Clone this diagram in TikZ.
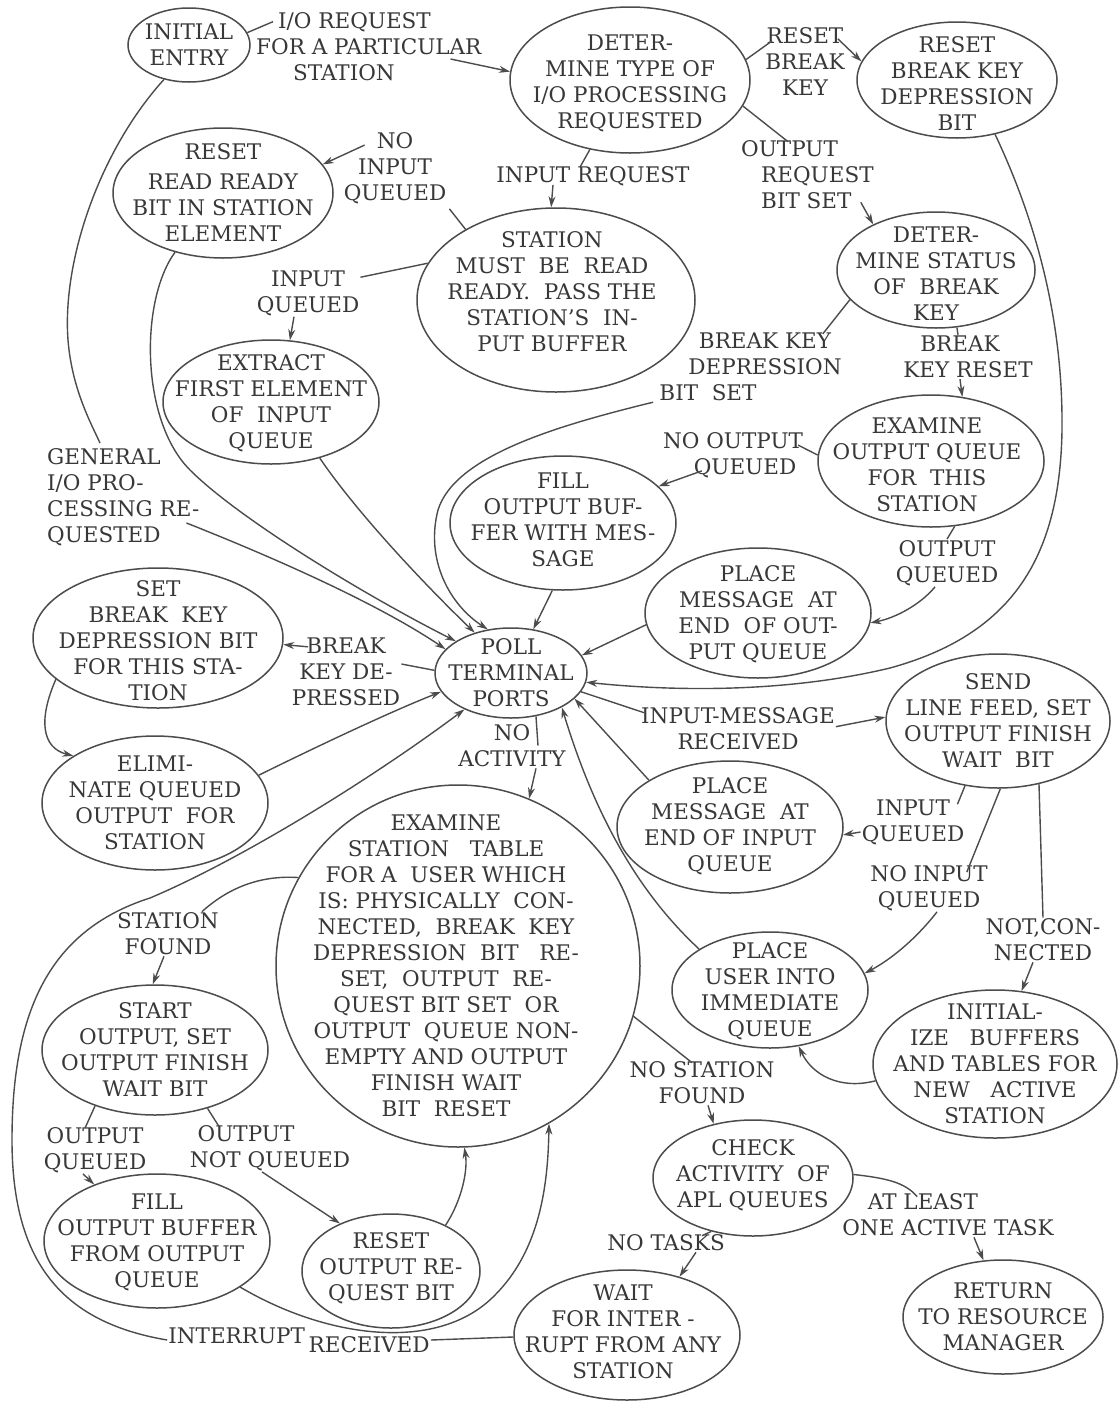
\documentclass[tikz,border=0pt]{standalone}
\usepackage{fontspec}
\setmainfont{DejaVu Serif}
\usetikzlibrary{shapes.geometric,arrows.meta,calc}
\definecolor{lc}{gray}{0.3}
\definecolor{tc}{gray}{0.22}
\newcommand\E[3]{\smash{\makebox[0pt]{\hspace*{#1}\hspace*{#1}\raisebox{\dimexpr-0.25em-2pt-#2\relax}{\begin{tabular}{@{}c@{}}#3\end{tabular}}}}}
\begin{document}
\begin{tikzpicture}[x=1pt,y=-1pt,
  every node/.style={font=\fontsize{21.5}{26}\selectfont, text=tc},
  st/.style={draw=lc, line width=1.5pt, ellipse, inner sep=0pt},
  el/.style n args={2}{minimum width=#1, minimum height=#2},
  lb/.style={align=center, inner sep=1pt},
  ln/.style={draw=lc, line width=1.4pt},
  ar/.style={ln, -{Stealth[length=11pt,width=7pt]}}]
\path[use as bounding box, fill=white] (0,0) rectangle (1119,1403);

% ---------- states ----------
\node[st, el={122pt}{74pt}] (init) at (189,45) {\E{0pt}{0pt}{INITIAL\\ENTRY}};
\node[st, el={240pt}{146pt}] (det) at (630,80) {\E{0pt}{2pt}{DETER-\\MINE TYPE OF\\I/O PROCESSING\\REQUESTED}};
\node[st, el={200pt}{116pt}] (rbk) at (957,80) {\E{0pt}{4pt}{RESET\\BREAK KEY\\DEPRESSION\\BIT}};
\node[st, el={220pt}{130pt}] (rrr) at (223,193) {\E{0pt}{0pt}{RESET\\[4pt]READ READY\\BIT IN STATION\\ELEMENT}};
\node[st, el={278pt}{184pt}] (stn) at (556,300) {\E{-4pt}{-8pt}{STATION\\MUST\ \ BE\ \ READ\\READY.\ \ PASS THE\\STATION'S\ \ IN-\\PUT BUFFER}};
\node[st, el={198pt}{116pt}] (dst) at (936,270) {\E{0pt}{4pt}{DETER-\\MINE STATUS\\OF\ \ BREAK\\KEY}};
\node[st, el={216pt}{124pt}] (ext) at (271,402) {\E{0pt}{0pt}{EXTRACT\\FIRST ELEMENT\\OF\ \ INPUT\\QUEUE}};
\node[st, el={226pt}{132pt}] (eoq) at (931,461) {\E{-4pt}{4pt}{EXAMINE\\OUTPUT QUEUE\\FOR\ \ THIS\\STATION}};
\node[st, el={226pt}{134pt}] (fwm) at (563,523) {\E{0pt}{-3pt}{FILL\\OUTPUT BUF-\\FER WITH MES-\\SAGE}};
\node[st, el={226pt}{130pt}] (pmo) at (758,613) {\E{0pt}{0pt}{PLACE\\MESSAGE\ \ AT\\END\ \ OF OUT-\\PUT QUEUE}};
\node[st, el={250pt}{140pt}] (sbk) at (158,638) {\E{0pt}{3pt}{SET\\BREAK\ \ KEY\\DEPRESSION BIT\\FOR THIS STA-\\TION}};
\node[st, el={152pt}{90pt}] (poll) at (511,673) {\E{0pt}{0pt}{POLL\\TERMINAL\\PORTS}};
\node[st, el={224pt}{134pt}] (send) at (998,721) {\E{0pt}{0pt}{SEND\\LINE FEED, SET\\OUTPUT FINISH\\WAIT\ \ BIT}};
\node[st, el={226pt}{134pt}] (elim) at (155,803) {\E{0pt}{0pt}{ELIMI-\\NATE QUEUED\\OUTPUT\ \ FOR\\STATION}};
\node[st, el={226pt}{132pt}] (pmi) at (730,827) {\E{0pt}{-2pt}{PLACE\\MESSAGE\ \ AT\\END OF INPUT\\QUEUE}};
\node[st, el={364pt}{362pt}] (big) at (458,966) {\E{-12pt}{0pt}{EXAMINE\\STATION\ \ \ TABLE\\FOR A\ \ USER WHICH\\IS:\ PHYSICALLY\ \ CON-\\NECTED,\ \ BREAK\ \ KEY\\DEPRESSION\ \ BIT\ \ \ RE-\\SET,\ \ OUTPUT\ \ RE-\\QUEST BIT SET\ \ OR\\OUTPUT\ \ QUEUE NON-\\EMPTY AND OUTPUT\\FINISH WAIT\\BIT\ \ RESET}};
\node[st, el={196pt}{116pt}] (pui) at (770,990) {\E{0pt}{0pt}{PLACE\\USER INTO\\IMMEDIATE\\QUEUE}};
\node[st, el={244pt}{148pt}] (ini2) at (995,1064) {\E{0pt}{0pt}{INITIAL-\\IZE\ \ \ BUFFERS\\AND TABLES FOR\\NEW\ \ \ ACTIVE\\STATION}};
\node[st, el={226pt}{130pt}] (start) at (155,1050) {\E{0pt}{0pt}{START\\OUTPUT, SET\\OUTPUT FINISH\\WAIT BIT}};
\node[st, el={226pt}{134pt}] (fbo) at (157,1241) {\E{0pt}{0pt}{FILL\\OUTPUT BUFFER\\FROM OUTPUT\\QUEUE}};
\node[st, el={178pt}{114pt}] (ror) at (391,1271) {\E{0pt}{-4pt}{RESET\\OUTPUT RE-\\QUEST BIT}};
\node[st, el={200pt}{116pt}] (chk) at (753,1178) {\E{0pt}{-4pt}{CHECK\\ACTIVITY\ \ OF\\APL QUEUES}};
\node[st, el={226pt}{130pt}] (wait) at (627,1335) {\E{-4pt}{-3pt}{WAIT\\FOR INTER -\\RUPT FROM ANY\\STATION}};
\node[st, el={200pt}{114pt}] (ret) at (1003,1317) {\E{0pt}{0pt}{RETURN\\TO RESOURCE\\MANAGER}};

% ---------- labels ----------
\node[lb, align=left, anchor=west] (lio) at (255,47) {\hspace*{22pt}I/O REQUEST\\FOR A PARTICULAR\\\hspace*{37pt}STATION};
\node[lb, align=left, anchor=west] (lgen) at (46,497) {GENERAL\\I/O PRO-\\CESSING RE-\\QUESTED};
\node[lb] (lir) at (593,176) {INPUT REQUEST};
\node[lb] (lrbk) at (805,62) {RESET\\BREAK\\KEY};
\node[lb, align=left, anchor=west] (lorb) at (740,175) {OUTPUT\\\hspace*{20pt}REQUEST\\\hspace*{20pt}BIT SET};
\node[lb] (lniq) at (395,168) {NO\\INPUT\\QUEUED};
\node[lb] (liq) at (308,293) {INPUT\\QUEUED};
\node[lb] (lbkd) at (765,367) {BREAK KEY\\DEPRESSION\\\hspace*{-114pt}BIT\ \ SET};
\node[lb] (lbkr) at (968,357) {BREAK\hspace*{16pt}\\KEY RESET};
\node[lb] (lnoq) at (733,455) {NO OUTPUT\\\hspace*{24pt}QUEUED};
\node[lb] (loq) at (947,563) {OUTPUT\\QUEUED};
\node[lb] (lbkp) at (346,672) {BREAK\\KEY DE-\\PRESSED};
\node[lb] (limr) at (738,729) {INPUT-MESSAGE\\RECEIVED};
\node[lb] (lna) at (512,746) {NO\\ACTIVITY};
\node[lb] (liq2) at (913,822) {INPUT\\QUEUED};
\node[lb] (lniq2) at (929,888) {NO INPUT\\QUEUED};
\node[lb] (lnc) at (1043,940) {NOT,CON-\\NECTED};
\node[lb] (lsf) at (168,934) {STATION\\FOUND};
\node[lb] (lnsf) at (702,1083) {NO STATION\\FOUND};
\node[lb] (loq2) at (95,1150) {OUTPUT\\QUEUED};
\node[lb] (lonq) at (270,1148) {OUTPUT\hspace*{48pt}\\NOT QUEUED};
\node[lb] (lnt) at (666,1243) {NO TASKS};
\node[lb] (lalt) at (948,1215) {AT LEAST\hspace*{50pt}\\ONE ACTIVE TASK};
\node[lb] (lint) at (299,1340) {INTERRUPT\raisebox{-9pt}{\,RECEIVED}};

% ---------- connectors ----------
\draw[ln] (init.12) -- ($(lio.north west)+(18,10)$);
\draw[ar] ($(lio.east)+(-32,12)$) -- (det.176);

\draw[ln] (init.234) .. controls (100,150) and (62,260) .. (68,340) .. controls (72,390) and (92,425) .. ($(lgen.north west)+(54,-4)$);
\draw[ar] ($(lgen.east)+(-14,26)$) .. controls (280,560) and (380,605) .. (poll.160);

\draw[ln] (det.240) -- ($(lir.north)+(-13,2)$);
\draw[ar] ($(lir.south)+(-40,-2)$) -- (stn.93);

\draw[ln] (det.10) -- ($(lrbk.north west)+(8,14)$);
\draw[ar] ($(lrbk.north east)+(-8,12)$) -- (rbk.169);

\draw[ln] (det.347) -- ($(lorb.north west)+(48,2)$);
\draw[ar] ($(lorb.south east)+(-14,-8)$) -- (dst.144);

\draw[ln] (stn.142) -- ($(lniq.south east)+(2,4)$);
\draw[ar] ($(lniq.north west)+(22,14)$) -- (rrr.16);

\draw[ln] (stn.164) -- ($(liq.north east)+(0,8)$);
\draw[ar] ($(liq.south)+(-14,0)$) -- (ext.73);

\draw[ar] (rrr.231) .. controls (140,300) and (140,420) .. (190,470) .. controls (240,520) and (370,598) .. (poll.150);
\draw[ar] (ext.311) .. controls (355,510) and (420,580) .. (poll.132);

\draw[ln] (dst.199) -- ($(lbkd.north east)+(-20,2)$);
\draw[ar] ($(lbkd.south west)+(-34,0)$) .. controls (560,425) and (455,455) .. (438,510) .. controls (425,560) and (450,605) .. (poll.118);

\draw[ln] (dst.290) -- ($(lbkr.north)+(-10,0)$);
\draw[ar] ($(lbkr.south)+(-8,0)$) -- (eoq.64);

\draw[ar] (rbk.305) .. controls (1045,240) and (1063,340) .. (1062,430) .. controls (1060,560) and (1010,635) .. (890,668) .. controls (790,692) and (680,692) .. (poll.353);

\draw[ln] (eoq.177) -- ($(lnoq.north east)+(-6,14)$);
\draw[ar] ($(lnoq.south west)+(40,-8)$) -- (fwm.21);

\draw[ln] (eoq.290) -- (loq.north);
\draw[ar] ($(loq.south)+(-12,0)$) .. controls (920,605) and (895,618) .. (pmo.355);

\draw[ar] (fwm.261) -- (poll.63);
\draw[ar] (pmo.186) -- (poll.14);

\draw[ln] (poll.178) -- ($(lbkp.east)+(0,-8)$);
\draw[ar] ($(lbkp.north)+(-38,10)$) -- (sbk.357);

\draw[ar] (sbk.202) .. controls (38,720) and (42,748) .. (elim.150);
\draw[ar] (elim.15) .. controls (320,745) and (390,712) .. (poll.195);

\draw[ln] (poll.345) -- ($(limr.north west)+(4,6)$);
\draw[ar] ($(limr.north east)+(0,20)$) -- (send.178);

\draw[ln] (poll.300) -- ($(lna.north)+(26,22)$);
\draw[ar] ($(lna.south)+(24,0)$) -- (big.67);

\draw[ar] (pmi.150) -- (poll.338);
\draw[ar] (pui.150) .. controls (630,885) and (590,800) .. (poll.326);

\draw[ln] (send.243) -- ($(liq2.north east)+(-8,6)$);
\draw[ar] ($(liq2.west)+(0,10)$) -- (pmi.356);

\draw[ln] (send.272) -- ($(lniq2.north east)+(-22,8)$);
\draw[ar] ($(lniq2.south)+(8,0)$) .. controls (915,940) and (890,960) .. (pui.10);

\draw[ln] (send.303) -- (lnc.north);
\draw[ar] ($(lnc.south)+(-10,0)$) -- (ini2.70);

\draw[ar] (ini2.188) .. controls (840,1090) and (812,1075) .. (pui.297);

\draw[ln] (big.151) .. controls (260,875) and (228,888) .. ($(lsf.north east)+(-18,0)$);
\draw[ar] ($(lsf.south)+(-4,0)$) -- (start.92);

\draw[ln] (big.344) -- ($(lnsf.north)+(-10,2)$);
\draw[ar] ($(lnsf.south)+(6,0)$) -- (chk.126);

\draw[ln] (start.223) -- ($(loq2.north)+(-10,2)$);
\draw[ar] ($(loq2.south)+(-12,0)$) -- (fbo.138);

\draw[ln] (start.312) -- ($(lonq.north west)+(30,2)$);
\draw[ar] ($(lonq.south)+(-8,0)$) -- (ror.137);

\draw[ar] (ror.40) .. controls (462,1200) and (468,1170) .. (big.272);
\draw[ar] (fbo.331) .. controls (330,1340) and (440,1352) .. (495,1295) .. controls (540,1250) and (548,1185) .. (big.300);

\draw[ln] (chk.232) -- ($(lnt.north east)+(-24,2)$);
\draw[ar] ($(lnt.south east)+(-30,0)$) -- (wait.48);

\draw[ln] (chk.2) .. controls (885,1178) and (905,1182) .. ($(lalt.north west)+(76,4)$);
\draw[ar] ($(lalt.south)+(26,0)$) -- (ret.109);

\draw[ln] (wait.181) -- (lint.east);
\draw[ar] (lint.west) .. controls (60,1322) and (12,1260) .. (12,1140) .. controls (12,1010) and (50,930) .. (150,898) .. controls (240,860) and (370,780) .. (poll.218);
\end{tikzpicture}
\end{document}
